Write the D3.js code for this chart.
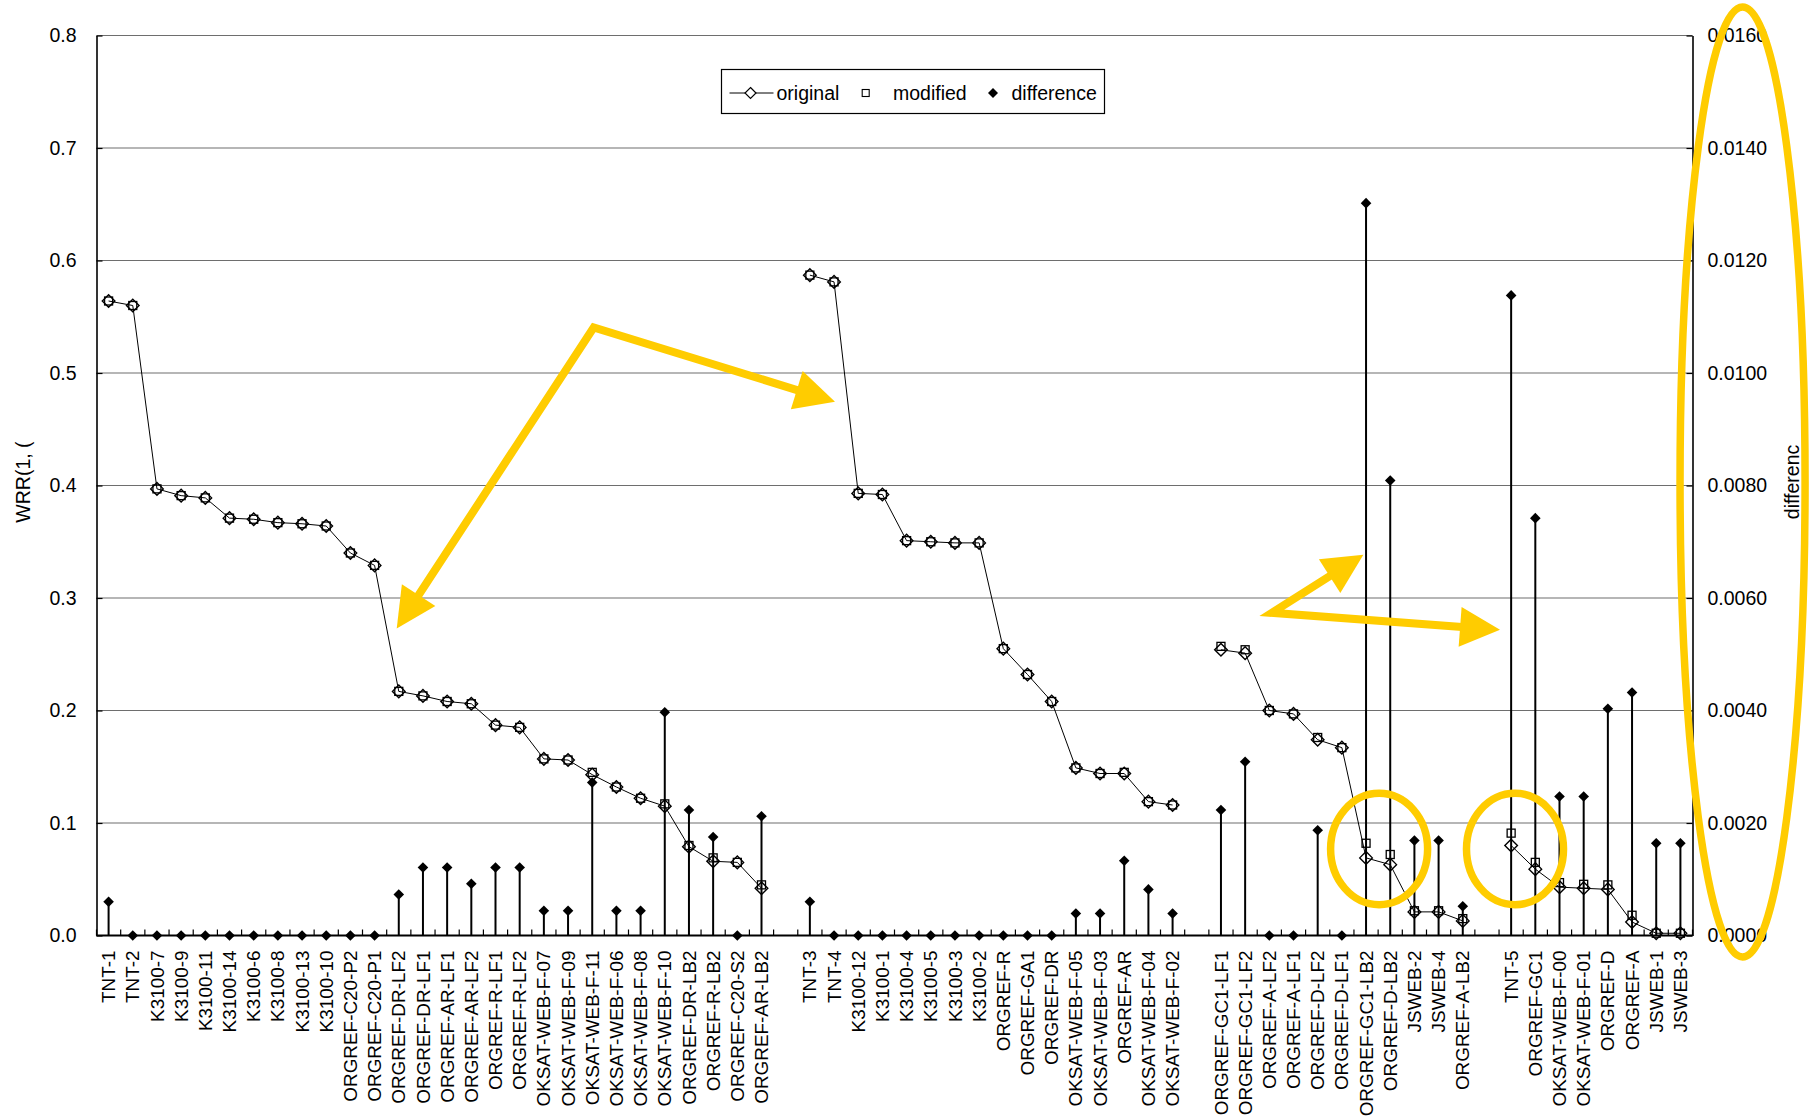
<!DOCTYPE html>
<html>
<head>
<meta charset="utf-8">
<script src="https://cdn.jsdelivr.net/npm/d3@7"></script>
<style>
  html, body { margin: 0; padding: 0; background: #fff; }
  svg { display: block; font-family: "Liberation Sans", Arial, sans-serif; }
</style>
</head>
<body>
<svg id="chart" width="1814" height="1120"></svg>
<script>
// Test cases, grouped; "" marks the empty slot between groups.
const categories = [
  "TNT-1","TNT-2","K3100-7","K3100-9","K3100-11","K3100-14","K3100-6","K3100-8","K3100-13","K3100-10",
  "ORGREF-C20-P2","ORGREF-C20-P1","ORGREF-DR-LF2","ORGREF-DR-LF1","ORGREF-AR-LF1","ORGREF-AR-LF2",
  "ORGREF-R-LF1","ORGREF-R-LF2","OKSAT-WEB-F-07","OKSAT-WEB-F-09","OKSAT-WEB-F-11","OKSAT-WEB-F-06",
  "OKSAT-WEB-F-08","OKSAT-WEB-F-10","ORGREF-DR-LB2","ORGREF-R-LB2","ORGREF-C20-S2","ORGREF-AR-LB2",
  "",
  "TNT-3","TNT-4","K3100-12","K3100-1","K3100-4","K3100-5","K3100-3","K3100-2","ORGREF-R","ORGREF-GA1",
  "ORGREF-DR","OKSAT-WEB-F-05","OKSAT-WEB-F-03","ORGREF-AR","OKSAT-WEB-F-04","OKSAT-WEB-F-02",
  "",
  "ORGREF-GC1-LF1","ORGREF-GC1-LF2","ORGREF-A-LF2","ORGREF-A-LF1","ORGREF-D-LF2","ORGREF-D-LF1",
  "ORGREF-GC1-LB2","ORGREF-D-LB2","JSWEB-2","JSWEB-4","ORGREF-A-LB2",
  "",
  "TNT-5","ORGREF-GC1","OKSAT-WEB-F-00","OKSAT-WEB-F-01","ORGREF-D","ORGREF-A","JSWEB-1","JSWEB-3"
];

// WRR of the original runs (left axis)
const original = [
  0.564,0.560,0.397,0.391,0.389,0.371,0.370,0.367,0.366,0.364,
  0.340,0.329,0.217,0.213,0.208,0.206,
  0.187,0.185,0.157,0.156,0.143,0.132,
  0.122,0.115,0.079,0.066,0.065,0.042,
  null,
  0.587,0.581,0.393,0.392,0.351,0.350,0.349,0.349,0.255,0.232,
  0.208,0.149,0.144,0.144,0.119,0.116,
  null,
  0.254,0.251,0.200,0.197,0.174,0.167,
  0.069,0.063,0.021,0.021,0.013,
  null,
  0.080,0.059,0.043,0.042,0.041,0.012,0.002,0.002
];

// WRR of the modified runs (left axis)
const modified = [
  0.564,0.560,0.397,0.391,0.389,0.371,0.370,0.367,0.366,0.364,
  0.340,0.329,0.217,0.213,0.208,0.206,
  0.187,0.185,0.157,0.156,0.145,0.132,
  0.122,0.117,0.080,0.069,0.065,0.045,
  null,
  0.587,0.581,0.393,0.392,0.351,0.350,0.349,0.349,0.255,0.232,
  0.208,0.149,0.144,0.145,0.119,0.116,
  null,
  0.257,0.254,0.200,0.197,0.176,0.167,
  0.082,0.072,0.022,0.022,0.015,
  null,
  0.091,0.065,0.047,0.0455,0.045,0.018,0.002,0.002
];

// difference between the two (right axis)
const difference = [
  0.0006,0,0,0,0,0,0,0,0,0,
  0,0,0.00073,0.00121,0.00121,0.00092,
  0.00121,0.00121,0.00044,0.00044,0.00272,0.00044,
  0.00044,0.00397,0.00223,0.00175,0,0.00212,
  null,
  0.0006,0,0,0,0,0,0,0,0,0,
  0,0.00039,0.00039,0.00133,0.00082,0.00039,
  null,
  0.00223,0.00309,0,0,0.00187,0,
  0.01302,0.00809,0.00169,0.00169,0.00052,
  null,
  0.01138,0.00742,0.00247,0.00247,0.00403,0.00432,0.00164,0.00164
];

const leftTicks  = [0, 0.1, 0.2, 0.3, 0.4, 0.5, 0.6, 0.7, 0.8];
const rightTicks = [0, 0.002, 0.004, 0.006, 0.008, 0.010, 0.012, 0.014, 0.016];
const seriesNames = ["original", "modified", "difference"];
const leftTitle = "WRR(1, (";
const rightTitle = "differenc";

// Highlight marks, in (slot, left-axis value) coordinates
const arrowPairs = [
  { vertex: [20.56, 0.5405], tips: [[12.415, 0.2728], [30.54, 0.4744]] },
  { vertex: [48.6, 0.2868],  tips: [[52.39, 0.3385], [58.04, 0.2717]] }
];
const rings = [
  { c: [53.04, 0.0769], r: [2.006, 0.0495] },
  { c: [58.66, 0.0769], r: [2.006, 0.0495] },
  { c: [68.07, 0.4031], r: [2.585, 0.4222] }
];

const svg = d3.select("#chart");
const plot = { left: 96.5, right: 1692.5, top: 35.5, bottom: 935.5 };
const FONT = 19.5;
const CAT_FONT = 18.9;
const YELLOW = "#FFCC00";

const x = d3.scaleBand()
  .domain(d3.range(categories.length))
  .range([plot.left, plot.right])
  .padding(0);
const xc = i => x(i) + x.bandwidth() / 2;
const slot = d3.scaleLinear().domain([0, categories.length]).range([plot.left, plot.right]);
const yL = d3.scaleLinear().domain([0, 0.8]).range([plot.bottom, plot.top]);
const yR = d3.scaleLinear().domain([0, 0.016]).range([plot.bottom, plot.top]);

svg.append("rect").attr("width", 1814).attr("height", 1120).attr("fill", "#fff");

// horizontal gridlines
svg.append("g")
  .selectAll("line")
  .data(leftTicks.filter(t => t > 0))
  .join("line")
  .attr("x1", plot.left).attr("x2", plot.right)
  .attr("y1", d => yL(d)).attr("y2", d => yL(d))
  .attr("stroke", "#6e6e6e").attr("stroke-width", 1.2);

// left axis
const gL = svg.append("g")
  .attr("transform", `translate(${plot.left},0)`)
  .call(d3.axisLeft(yL).tickValues(leftTicks).tickFormat(d3.format(".1f"))
    .tickSize(-6).tickSizeOuter(0).tickPadding(20));
// right axis
const gR = svg.append("g")
  .attr("transform", `translate(${plot.right},0)`)
  .call(d3.axisRight(yR).tickValues(rightTicks).tickFormat(d3.format(".4f"))
    .tickSize(-6).tickSizeOuter(0).tickPadding(15));
[gL, gR].forEach(g => {
  g.select(".domain").attr("stroke", "#000").attr("stroke-width", 1.6);
  g.selectAll(".tick line").attr("stroke", "#000").attr("stroke-width", 1.2);
  g.selectAll(".tick text")
    .attr("fill", "#000")
    .style("font-size", FONT + "px")
    .style("font-family", '"Liberation Sans", Arial, sans-serif');
});

// category axis
svg.append("line")
  .attr("x1", plot.left).attr("x2", plot.right)
  .attr("y1", plot.bottom).attr("y2", plot.bottom)
  .attr("stroke", "#000").attr("stroke-width", 2);
svg.append("g")
  .selectAll("line")
  .data(d3.range(categories.length + 1))
  .join("line")
  .attr("x1", i => slot(i)).attr("x2", i => slot(i))
  .attr("y1", plot.bottom).attr("y2", plot.bottom - 6)
  .attr("stroke", "#000").attr("stroke-width", 1.2);
svg.append("g")
  .selectAll("text")
  .data(d3.range(categories.length).filter(i => categories[i] !== ""))
  .join("text")
  .attr("transform", i => `translate(${xc(i)},${plot.bottom + 15}) rotate(-90)`)
  .attr("text-anchor", "end")
  .attr("dy", "0.35em")
  .style("font-size", CAT_FONT + "px")
  .attr("fill", "#000")
  .text(i => categories[i]);

// axis titles
svg.append("text")
  .attr("transform", `translate(30,482) rotate(-90)`)
  .attr("text-anchor", "middle")
  .style("font-size", FONT + "px")
  .text(leftTitle);
svg.append("text")
  .attr("transform", `translate(1799,482) rotate(-90)`)
  .attr("text-anchor", "middle")
  .style("font-size", FONT + "px")
  .text(rightTitle);

const idx = d3.range(categories.length);
const diamond = r => `M0,${-r}L${r},0L0,${r}L${-r},0Z`;

// difference drop lines
svg.append("g")
  .selectAll("line")
  .data(idx.filter(i => difference[i] != null && difference[i] > 0))
  .join("line")
  .attr("x1", xc).attr("x2", xc)
  .attr("y1", yR(0)).attr("y2", i => yR(difference[i]))
  .attr("stroke", "#000").attr("stroke-width", 2);

// original line
svg.append("path")
  .datum(idx)
  .attr("fill", "none")
  .attr("stroke", "#000")
  .attr("stroke-width", 1)
  .attr("d", d3.line().defined(i => original[i] != null).x(xc).y(i => yL(original[i])));

// original markers
svg.append("g")
  .selectAll("path")
  .data(idx.filter(i => original[i] != null))
  .join("path")
  .attr("transform", i => `translate(${xc(i)},${yL(original[i])})`)
  .attr("d", diamond(6.3))
  .attr("fill", "none").attr("stroke", "#000").attr("stroke-width", 1.4);

// modified markers
svg.append("g")
  .selectAll("rect")
  .data(idx.filter(i => modified[i] != null))
  .join("rect")
  .attr("x", i => xc(i) - 4).attr("y", i => yL(modified[i]) - 4)
  .attr("width", 8).attr("height", 8)
  .attr("fill", "none").attr("stroke", "#000").attr("stroke-width", 1.3);

// difference markers
svg.append("g")
  .selectAll("path")
  .data(idx.filter(i => difference[i] != null))
  .join("path")
  .attr("transform", i => `translate(${xc(i)},${yR(difference[i])})`)
  .attr("d", diamond(5.3))
  .attr("fill", "#000");

// legend
const lg = svg.append("g").attr("transform", "translate(721.5,69.5)");
lg.append("rect").attr("width", 383).attr("height", 44)
  .attr("fill", "#fff").attr("stroke", "#000").attr("stroke-width", 1.2);
const ly = 23.5;
lg.append("line").attr("x1", 8).attr("x2", 52).attr("y1", ly).attr("y2", ly)
  .attr("stroke", "#000").attr("stroke-width", 1);
lg.append("path").attr("transform", `translate(29,${ly})`).attr("d", diamond(5.5))
  .attr("fill", "#fff").attr("stroke", "#000").attr("stroke-width", 1.2);
lg.append("rect").attr("x", 144.2 - 3.5).attr("y", ly - 3.5).attr("width", 7).attr("height", 7)
  .attr("fill", "none").attr("stroke", "#000").attr("stroke-width", 1.1);
lg.append("path").attr("transform", `translate(271.5,${ly})`).attr("d", diamond(5))
  .attr("fill", "#000");
const legendX = [55, 171.5, 290];
lg.selectAll("text.lbl")
  .data(seriesNames)
  .join("text")
  .attr("class", "lbl")
  .attr("x", (d, i) => legendX[i]).attr("y", ly)
  .attr("dy", "0.35em")
  .style("font-size", FONT + "px")
  .text(d => d);

// yellow highlight arrows and rings
const ann = svg.append("g");
const pt = p => [slot(p[0]), yL(p[1])];
const headLen = 40, headHalf = 20;
arrowPairs.forEach(a => {
  const v = pt(a.vertex);
  const bases = [];
  a.tips.forEach(t => {
    const tp = pt(t);
    const dx = tp[0] - v[0], dy = tp[1] - v[1];
    const len = Math.hypot(dx, dy);
    const ux = dx / len, uy = dy / len;
    const b = [tp[0] - ux * headLen, tp[1] - uy * headLen];
    bases.push([tp[0] - ux * (headLen - 2), tp[1] - uy * (headLen - 2)]);
    ann.append("path")
      .attr("d", `M${tp[0]},${tp[1]}L${b[0] - uy * headHalf},${b[1] + ux * headHalf}L${b[0] + uy * headHalf},${b[1] - ux * headHalf}Z`)
      .attr("fill", YELLOW);
  });
  ann.append("path")
    .attr("d", `M${bases[0][0]},${bases[0][1]}L${v[0]},${v[1]}L${bases[1][0]},${bases[1][1]}`)
    .attr("fill", "none").attr("stroke", YELLOW)
    .attr("stroke-width", 8).attr("stroke-linejoin", "miter");
});
rings.forEach(r => {
  const c = pt(r.c);
  ann.append("ellipse")
    .attr("cx", c[0]).attr("cy", c[1])
    .attr("rx", slot(r.r[0]) - slot(0))
    .attr("ry", yL(0) - yL(r.r[1]))
    .attr("fill", "none").attr("stroke", YELLOW).attr("stroke-width", 7.5);
});
</script>
</body>
</html>
